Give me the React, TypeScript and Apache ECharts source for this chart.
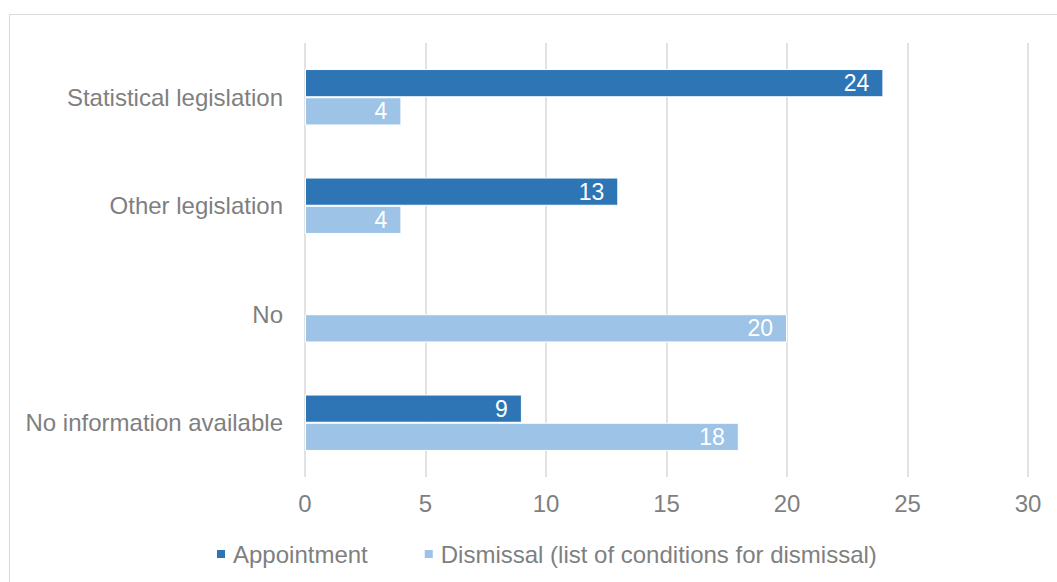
import React, { useEffect, useRef } from "react";
import * as echarts from "echarts";

const categories = ["Statistical legislation", "Other legislation", "No", "No information available"];
const appointment = [24, 13, null, 9];
const dismissal = [4, 4, 20, 18];
const seriesNames = ["Appointment", "Dismissal (list of conditions for dismissal)"];

const FONT = "'Liberation Sans', Arial, sans-serif";
const GRAY = "#7f7f7f";

export default function App() {
  const ref = useRef<HTMLDivElement>(null);
  useEffect(() => {
    if (!ref.current) return;
    const chart = echarts.init(ref.current, undefined, { renderer: "svg" });
    const label = {
      show: true,
      position: "insideRight" as const,
      color: "#ffffff",
      fontSize: 23,
      fontFamily: FONT,
      distance: 14,
    };
    chart.setOption({
      animation: false,
      backgroundColor: "#ffffff",
      textStyle: { fontFamily: FONT },
      graphic: [
        {
          type: "rect",
          shape: { x: 9.5, y: 14.5, width: 1060, height: 600 },
          style: { fill: "none", stroke: "#d9d9d9", lineWidth: 1 },
          silent: true,
          z: -1,
        },
      ],
      grid: { left: 305, right: 29, top: 43, bottom: 105, containLabel: false },
      legend: {
        left: 210,
        top: 537,
        icon: "rect",
        itemWidth: 10,
        itemHeight: 10,
        itemGap: 55,
        textStyle: { color: GRAY, fontSize: 24, fontFamily: FONT, padding: [0, 0, 0, 2] },
        data: seriesNames,
      },
      xAxis: {
        type: "value",
        min: 0,
        max: 30,
        interval: 5,
        axisLine: { show: false },
        axisTick: { show: false },
        axisLabel: { color: GRAY, fontSize: 24, fontFamily: FONT, margin: 14 },
        splitLine: { show: true, lineStyle: { color: "#d9d9d9", width: 1.5 } },
      },
      yAxis: {
        type: "category",
        data: categories,
        inverse: true,
        axisLine: { show: false },
        axisTick: { show: false },
        axisLabel: { color: GRAY, fontSize: 24, fontFamily: FONT, margin: 22, padding: [0, 0, 2, 0] },
      },
      series: [
        {
          name: seriesNames[0],
          type: "bar",
          data: appointment,
          itemStyle: { color: "#2e75b6", borderColor: "#ffffff", borderWidth: 1 },
          barGap: "0%",
          barCategoryGap: "48%",
          label,
        },
        {
          name: seriesNames[1],
          type: "bar",
          data: dismissal,
          itemStyle: { color: "#9dc3e6", borderColor: "#ffffff", borderWidth: 1 },
          label,
        },
      ],
    });
    return () => chart.dispose();
  }, []);
  return (
    <div
      ref={ref}
      style={{ position: "absolute", left: 0, top: 0, width: 1057, height: 582 }}
    />
  );
}
